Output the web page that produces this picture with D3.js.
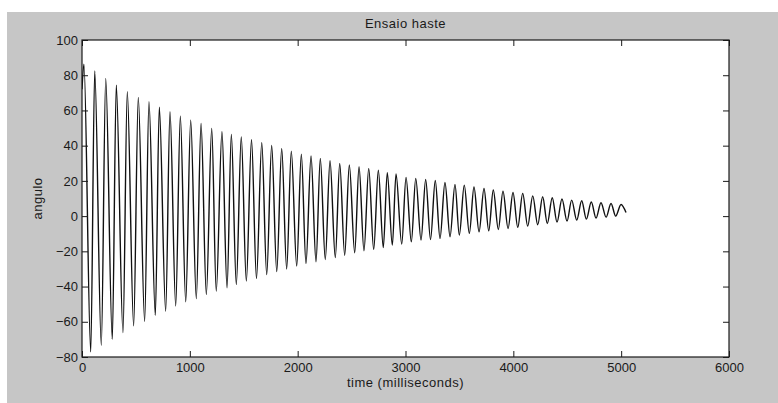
<!DOCTYPE html>
<html>
<head>
<meta charset="utf-8">
<script src="https://cdn.jsdelivr.net/npm/d3@7"></script>
<style>
  html, body { margin: 0; padding: 0; background: #ffffff; }
  svg { display: block; }
  text { font-family: "Liberation Sans", Arial, Helvetica, sans-serif; fill: #1a1a1a; }
</style>
</head>
<body>
<svg id="chart" width="778" height="403"></svg>
<script>
// Damped rod swing: angle (degrees) against time (ms)
const titleText = "Ensaio haste";
const xLabel = "time (milliseconds)";
const yLabel = "angulo";

const xTicks = [0, 1000, 2000, 3000, 4000, 5000, 6000];
const yTicks = [-80, -60, -40, -20, 0, 20, 40, 60, 80, 100];

// Record start and end samples
const startPoint = [0, 72];
const endPoint = [5045, 2];

// Crest of each swing
const peakTimes = [18, 118, 220, 318, 420, 522, 621, 717, 816, 912, 1008, 1104, 1203, 1298, 1385,
  1477, 1572, 1667, 1759, 1852, 1941, 2034, 2124, 2210, 2300, 2390, 2479, 2569, 2659, 2748, 2831,
  2912, 3005, 3095, 3187, 3276, 3366, 3459, 3545, 3635, 3728, 3814, 3904, 3997, 4087, 4180, 4272,
  4361, 4451, 4541, 4634, 4723, 4813, 4906, 4999];
const peakValues = [86.2, 82.4, 78.2, 74.4, 70.6, 67.4, 65.0, 61.8, 59.3, 56.8, 54.5, 52.6, 49.8, 47.9, 46.4,
  44.9, 43.4, 41.7, 40.1, 38.4, 36.9, 35.2, 34.1, 32.8, 31.4, 29.9, 29.0, 28.0, 27.1, 26.0, 24.6,
  23.9, 22.0, 21.4, 20.8, 20.2, 19.1, 18.0, 17.6, 16.5, 15.7, 14.8, 14.2, 13.4, 12.9, 11.5, 11.0,
  10.4, 9.7, 9.1, 8.7, 8.0, 7.6, 7.2, 6.6];

// Trough of each swing
const troughTimes = [81, 179, 281, 380, 479, 581, 680, 776, 869, 962, 1060, 1153, 1245, 1345, 1431,
  1524, 1618, 1713, 1806, 1898, 1991, 2077, 2170, 2256, 2349, 2436, 2529, 2615, 2705, 2794, 2878,
  2965, 3054, 3144, 3232, 3320, 3413, 3499, 3592, 3682, 3772, 3861, 3951, 4041, 4133, 4226, 4315,
  4405, 4498, 4588, 4677, 4767, 4860, 4949];
const troughValues = [-77.1, -73.3, -69.9, -66.1, -62.3, -59.7, -56.3, -54.0, -51.0, -48.7, -46.8, -44.5, -42.6, -40.7, -38.8,
  -36.9, -35.4, -33.2, -31.5, -30.0, -28.4, -26.9, -25.9, -24.6, -23.5, -22.2, -20.8, -19.7, -18.9, -17.8, -16.5,
  -15.9, -14.6, -13.6, -13.3, -12.7, -11.7, -10.8, -9.8, -8.9, -8.3, -7.6, -7.0, -6.4, -5.7, -4.9, -4.2,
  -3.4, -2.8, -2.3, -1.7, -1.1, -0.6, 0.0];

const svg = d3.select("#chart");
const W = 778, H = 403;
const plot = { left: 82, top: 40, right: 729, bottom: 357 };

// figure background
svg.append("rect").attr("x", 7).attr("y", 12).attr("width", W - 7).attr("height", H - 12)
  .attr("fill", "#c6c6c6");

// axes area
svg.append("rect").attr("x", plot.left).attr("y", plot.top)
  .attr("width", plot.right - plot.left).attr("height", plot.bottom - plot.top)
  .attr("fill", "#ffffff");

const x = d3.scaleLinear().domain([0, 6000]).range([plot.left, plot.right]);
const y = d3.scaleLinear().domain([-80, 100]).range([plot.bottom, plot.top]);

// samples in time order
const pts = [startPoint]
  .concat(peakTimes.map((t, i) => [t, peakValues[i]]))
  .concat(troughTimes.map((t, i) => [t, troughValues[i]]))
  .concat([endPoint])
  .sort((a, b) => a[0] - b[0]);

svg.append("clipPath").attr("id", "plotclip").append("rect")
  .attr("x", plot.left).attr("y", plot.top)
  .attr("width", plot.right - plot.left).attr("height", plot.bottom - plot.top);

const line = d3.line().x(d => x(d[0])).y(d => y(d[1])).curve(d3.curveMonotoneX);
svg.append("path").datum(pts)
  .attr("clip-path", "url(#plotclip)")
  .attr("d", line)
  .attr("fill", "none")
  .attr("stroke", "#111111")
  .attr("stroke-width", 1.4);

// axes with inward ticks on all four sides
const tickLen = 6;
const fmt = d3.format("d");
const gB = svg.append("g").attr("transform", `translate(0,${plot.bottom})`)
  .call(d3.axisBottom(x).tickValues(xTicks).tickSize(-tickLen).tickPadding(6).tickFormat(fmt));
const gT = svg.append("g").attr("transform", `translate(0,${plot.top})`)
  .call(d3.axisTop(x).tickValues(xTicks).tickSize(-tickLen).tickFormat(""));
const gL = svg.append("g").attr("transform", `translate(${plot.left},0)`)
  .call(d3.axisLeft(y).tickValues(yTicks).tickSize(-tickLen).tickPadding(4).tickFormat(fmt));
const gR = svg.append("g").attr("transform", `translate(${plot.right},0)`)
  .call(d3.axisRight(y).tickValues(yTicks).tickSize(-tickLen).tickFormat(""));

[gB, gT, gL, gR].forEach(g => {
  g.select(".domain").remove();
  g.selectAll(".tick line").attr("stroke", "#1a1a1a").attr("stroke-width", 1);
  g.selectAll(".tick text").attr("font-size", 13).attr("fill", "#1a1a1a")
    .style("font-family", "'Liberation Sans', Arial, sans-serif");
});

// box
svg.append("rect").attr("x", plot.left).attr("y", plot.top)
  .attr("width", plot.right - plot.left).attr("height", plot.bottom - plot.top)
  .attr("fill", "none").attr("stroke", "#1a1a1a").attr("stroke-width", 1.2);

// title and labels
svg.append("text").attr("x", (plot.left + plot.right) / 2).attr("y", 28)
  .attr("text-anchor", "middle").attr("font-size", 13).attr("letter-spacing", 0.5)
  .text(titleText);
svg.append("text").attr("x", (plot.left + plot.right) / 2).attr("y", 387)
  .attr("text-anchor", "middle").attr("font-size", 13).attr("letter-spacing", 0.5)
  .text(xLabel);
svg.append("text")
  .attr("transform", `translate(42,${(plot.top + plot.bottom) / 2}) rotate(-90)`)
  .attr("text-anchor", "middle").attr("font-size", 13).attr("letter-spacing", 0.5)
  .text(yLabel);
</script>
</body>
</html>
